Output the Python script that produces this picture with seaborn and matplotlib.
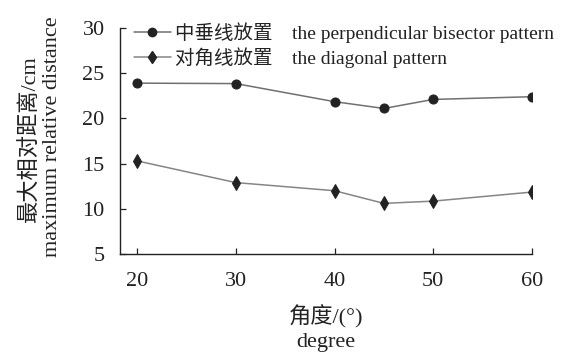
import matplotlib
matplotlib.use("Agg")
import matplotlib.pyplot as plt
import seaborn as sns
import pandas as pd
from matplotlib.lines import Line2D

angles = [20, 30, 40, 45, 50, 60]
perpendicular = [23.9, 23.85, 21.85, 21.1, 22.1, 22.4]
diagonal = [15.3, 12.9, 12.0, 10.6, 10.85, 11.85]
series_labels = ["中垂线放置    the perpendicular bisector pattern",
                 "对角线放置    the diagonal pattern"]
x_ticks = [20, 30, 40, 50, 60]
y_ticks = [5, 10, 15, 20, 25, 30]
xlabel_cn, xlabel_en = "角度/(°)", "degree"
ylabel_cn, ylabel_en = "最大相对距离/cm", "maximum relative distance"

sns.set_style("ticks")
FAM = ["Liberation Serif", "Noto Sans CJK SC"]
plt.rcParams["font.family"] = FAM
plt.rcParams["axes.unicode_minus"] = False

df = pd.DataFrame({
    "angle": angles * 2,
    "value": perpendicular + diagonal,
    "series": [series_labels[0]] * len(angles) + [series_labels[1]] * len(angles),
})

W, H = 564, 354
fig = plt.figure(figsize=(W / 100, H / 100), dpi=100)
ax = fig.add_axes([120 / W, 1 - 254 / H, (532 - 120) / W, (254 - 28) / H])

sns.lineplot(data=df[df.series == series_labels[0]], x="angle", y="value", ax=ax,
             color="#707070", linewidth=1.1, marker="o", markersize=6.5,
             markerfacecolor="#222222", markeredgecolor="#222222", legend=False)
sns.lineplot(data=df[df.series == series_labels[1]], x="angle", y="value", ax=ax,
             color="#858585", linewidth=1.1, marker="d", markersize=7.5,
             markerfacecolor="#222222", markeredgecolor="#222222", legend=False)

ax.set_xlim(18.27, 60)
ax.set_ylim(5, 30)
ax.set_xticks(x_ticks)
ax.set_yticks(y_ticks)
ax.tick_params(direction="in", length=4, width=0.9, labelsize=16, colors="#222222")
ax.tick_params(axis="x", pad=13)
ax.tick_params(axis="y", pad=11)
for s in ["top", "right"]:
    ax.spines[s].set_visible(False)
for s in ["left", "bottom"]:
    ax.spines[s].set_color("#222222")
    ax.spines[s].set_linewidth(1.0)
ax.set_xlabel("")
ax.set_ylabel("")

tc = "#222222"
fig.text(326 / W, 1 - 317 / H, xlabel_cn, ha="center", va="center", fontsize=16, color=tc)
fig.text(326 / W, 1 - 342 / H, xlabel_en, ha="center", va="center", fontsize=16, color=tc)
fig.text(30 / W, 1 - 139 / H, ylabel_cn, ha="center", va="center", rotation=90,
         fontsize=16, color=tc)
fig.text(53 / W, 1 - 137 / H, ylabel_en, ha="center", va="center", rotation=90,
         fontsize=16, color=tc)

handles = [
    Line2D([], [], color="#707070", linewidth=1.1, marker="o", markersize=6,
           markerfacecolor="#222222", markeredgecolor="#222222"),
    Line2D([], [], color="#858585", linewidth=1.1, marker="d", markersize=6,
           markerfacecolor="#222222", markeredgecolor="#222222"),
]
leg = ax.legend(handles, series_labels, loc="upper left", bbox_to_anchor=(0.0, 1.085),
                frameon=False, fontsize=14, handlelength=1.9, handletextpad=0.25,
                labelspacing=0.2, borderaxespad=0.3)
for t in leg.get_texts():
    t.set_color(tc)

fig.savefig("out.png", dpi=100)
